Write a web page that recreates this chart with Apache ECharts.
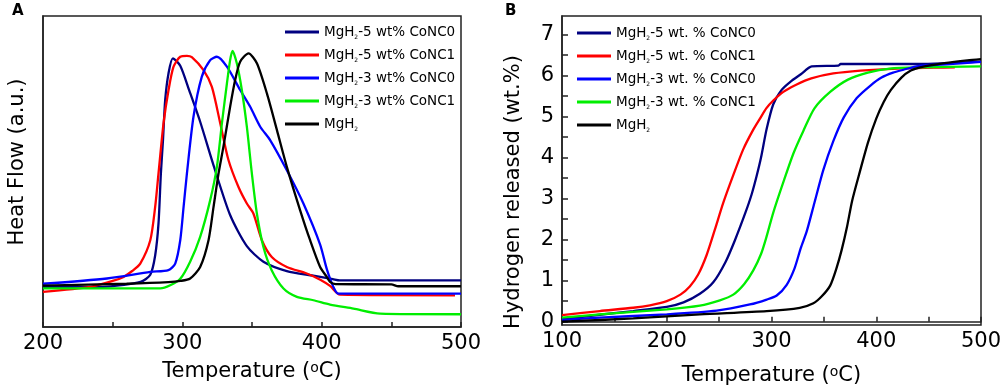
<!DOCTYPE html>
<html>
<head>
<meta charset="utf-8">
<script src="https://cdn.jsdelivr.net/npm/echarts@6/dist/echarts.min.js"></script>
<style>html,body{margin:0;padding:0;background:#fff}#c{width:1007px;height:391px}</style>
</head>
<body>
<div id="c"></div>
<script>
// ---------- Panel A: DSC heat flow (a.u.) ----------
const namesA = ['MgH2-5 wt% CoNC0', 'MgH2-5 wt% CoNC1', 'MgH2-3 wt% CoNC0', 'MgH2-3 wt% CoNC1', 'MgH2'];
const xTicksA = [200, 300, 400, 500];
const heatNavy = [[200,12.8],[246,13.0],[270,14.5],[277,16.8],[280.5,23],[282.9,33.3],[284.6,49.4],[286.1,60],[287.7,73],[290.1,81.6],[293.2,86.4],[298.5,84],[305,76],[312.8,66],[322.4,52],[334.3,36],[346.3,26],[358.2,21],[375,18],[394,16.5],[408,15.4],[413,15.0],[500,15.0]];
const heatRed = [[200,11.3],[234,12.9],[250,14.8],[257.8,16.1],[264,18],[269.8,20.4],[277,27.9],[280.5,38.6],[282.9,49.4],[286.5,65.5],[290.1,76.2],[293.7,83.7],[298.5,86.9],[303.3,87.2],[306.8,86.8],[315.2,82.6],[321.2,77.2],[327.2,65.5],[333.1,53.7],[340.3,45],[346.3,39.7],[351,36.5],[357.1,27.9],[364.2,22.5],[375,19.3],[389.3,17.2],[399,15.2],[406,13.2],[413.2,10.4],[495.7,10.2]];
const heatBlue = [[200,13.9],[245.9,15.6],[277,17.7],[290,18.3],[294.9,20.4],[298.5,27.9],[300.9,38.6],[303.3,49.4],[308,67.6],[314,80.5],[320,85.8],[324.8,86.9],[332,83.7],[341.5,76.2],[348.7,70.8],[355.9,64.4],[363,60.1],[375,50.4],[386.9,39.7],[398.9,26.5],[403.7,18.6],[408.4,12.9],[412,10.7],[500,10.7]];
const heatGreen = [[200,12.4],[284.1,12.4],[291.3,13.4],[298.5,15.5],[305.6,21],[312.8,29],[320,40.8],[324.8,51.5],[328.4,65.5],[332,78.3],[334.3,85.8],[336,88.8],[339.1,84.8],[342.7,76.2],[346.3,64.4],[349.9,49.4],[353.5,36.5],[358.2,25.7],[364.2,18.2],[372.6,12.4],[382.2,9.7],[394.1,8.6],[406,7.2],[422.8,5.9],[441.9,4.3],[500,4.1]];
const heatBlack = [[200,13.3],[260,13.9],[290,14.4],[298.5,14.8],[305.6,15.6],[312.8,19.3],[318.8,27.9],[322.4,38.6],[326,49.4],[329.5,58],[334.3,70.8],[337.9,79.4],[341.5,85.3],[347.5,88],[353.5,84.8],[360.7,75.1],[367.9,63.3],[375,51.5],[384.5,37.6],[391.7,27.9],[398.9,19.3],[403.7,16.1],[406,14.5],[410,13.8],[450,13.7],[455,13.1],[500,13.1]];

// ---------- Panel B: hydrogen released (wt.%) ----------
const namesB = ['MgH2-5 wt. % CoNC0', 'MgH2-5 wt. % CoNC1', 'MgH2-3 wt. % CoNC0', 'MgH2-3 wt. % CoNC1', 'MgH2'];
const xTicksB = [100, 200, 300, 400, 500];
const yTicksB = [0, 1, 2, 3, 4, 5, 6, 7];
const yMinorB = [0, 0.5, 1, 1.5, 2, 2.5, 3, 3.5, 4, 4.5, 5, 5.5, 6, 6.5, 7];
const h2Navy = [[100,0.06],[136,0.17],[168,0.26],[200,0.36],[216,0.47],[231.6,0.68],[244.4,0.96],[256,1.45],[265,1.98],[275,2.65],[281,3.1],[285.8,3.55],[290,4.0],[295.4,4.7],[301.7,5.3],[309.7,5.65],[317.7,5.84],[328,6.03],[338.4,6.22],[364,6.24],[366,6.28],[440,6.28],[500,6.34]];
const h2Red = [[100,0.16],[136,0.26],[168,0.34],[184,0.40],[200,0.50],[213,0.66],[222,0.86],[230,1.15],[238,1.62],[246,2.25],[254,2.9],[263.5,3.57],[273,4.2],[282.6,4.68],[289,4.95],[295,5.2],[301.7,5.39],[311.3,5.6],[324,5.78],[338,5.93],[359,6.05],[385,6.12],[420,6.17],[455,6.19],[475,6.2]];
const h2Blue = [[100,0.04],[136,0.1],[200,0.18],[247.6,0.27],[279.4,0.42],[295.4,0.54],[305,0.64],[314.5,0.9],[322,1.3],[328,1.8],[333.6,2.2],[341,2.9],[349.5,3.7],[359,4.4],[369,4.98],[381.4,5.45],[394.2,5.75],[405,5.95],[416,6.07],[426,6.14],[440,6.23],[470,6.28],[500,6.33]];
const h2Green = [[100,0.1],[136,0.18],[200,0.3],[231.6,0.39],[250.7,0.52],[263.5,0.66],[274,0.92],[282.6,1.25],[290,1.65],[295,2.05],[301.7,2.66],[311.3,3.4],[320.9,4.1],[330.4,4.65],[341,5.2],[356,5.6],[373,5.9],[392,6.07],[413,6.17],[440,6.2],[500,6.22]];
const h2Black = [[100,0.0],[168,0.08],[231.6,0.18],[295.4,0.26],[327,0.34],[340,0.45],[348,0.62],[356,0.88],[362,1.3],[367,1.75],[372,2.3],[377,2.95],[384.5,3.67],[392,4.36],[400,4.95],[407,5.35],[414,5.65],[424,5.95],[433,6.12],[442,6.2],[465,6.3],[487,6.37],[500,6.4]];

const colors = ['#000080', '#ff0000', '#0000ff', '#00ee00', '#000000'];
const FONT = '"DejaVu Sans", "Liberation Sans", Arial, sans-serif';

const chart = echarts.init(document.getElementById('c'), null, {renderer: 'canvas'});

function legendFmt(name) {
  return name.replace('MgH2', 'MgH{s|2}');
}
const legendText = {
  fontSize: 13.5, lineHeight: 16, color: '#000', fontFamily: FONT,
  rich: { s: { fontSize: 6, verticalAlign: 'bottom', lineHeight: 16, color: '#000', fontFamily: FONT } }
};
const axisName = {
  fontSize: 21, color: '#000', fontFamily: FONT,
  rich: { o: { fontSize: 14, verticalAlign: 'top', color: '#000', fontFamily: FONT } }
};
const lineCol = { color: '#222', width: 1.5 };

function mkSeries(name, data, color, xi, yi) {
  return {
    type: 'line', name, data, xAxisIndex: xi, yAxisIndex: yi,
    showSymbol: false, symbol: 'none', smooth: 0.25,
    color, itemStyle: {color}, lineStyle: {color, width: 2.3},
    emphasis: {disabled: true}, animation: false
  };
}

const option = {
  animation: false,
  grid: [
    {left: 43, top: 16, width: 418, height: 311, show: true, borderColor: '#222', borderWidth: 1.5, backgroundColor: 'transparent'},
    {left: 562, top: 16, width: 419, height: 310, show: true, borderColor: '#222', borderWidth: 1.5, backgroundColor: 'transparent'}
  ],
  xAxis: [
    {
      type: 'value', gridIndex: 0, min: 200, max: 500, interval: 50,
      axisLine: {show: true, lineStyle: lineCol},
      axisTick: {show: true, inside: true, length: 5, lineStyle: lineCol},
      axisLabel: {fontSize: 21, color: '#000', fontFamily: FONT, margin: 6,
        formatter: v => xTicksA.indexOf(v) >= 0 ? String(v) : ''},
      splitLine: {show: false},
      name: 'Temperature ({o|o}C)', nameLocation: 'middle', nameGap: 34, nameTextStyle: axisName
    },
    {
      type: 'value', gridIndex: 1, min: 100, max: 500, interval: 50,
      axisLine: {show: true, lineStyle: lineCol},
      axisTick: {show: true, inside: true, length: 5, lineStyle: lineCol},
      axisLabel: {fontSize: 21, color: '#000', fontFamily: FONT, margin: 6,
        formatter: v => xTicksB.indexOf(v) >= 0 ? String(v) : ''},
      splitLine: {show: false},
      name: 'Temperature ({o|o}C)', nameLocation: 'middle', nameGap: 40, nameTextStyle: axisName
    }
  ],
  yAxis: [
    {
      type: 'value', gridIndex: 0, min: 0, max: 100,
      axisLine: {show: true, lineStyle: lineCol},
      axisTick: {show: false}, axisLabel: {show: false}, splitLine: {show: false}
    },
    {
      type: 'value', gridIndex: 1, min: -0.08, max: 7.45,
      axisLine: {show: true, lineStyle: lineCol},
      axisTick: {show: true, inside: true, length: 6, lineStyle: lineCol, customValues: yMinorB},
      axisLabel: {fontSize: 21, color: '#000', fontFamily: FONT, margin: 8, customValues: yTicksB},
      splitLine: {show: false}
    }
  ],
  legend: [
    {
      data: namesA, orient: 'vertical', left: 285, top: 24, padding: 0,
      icon: 'rect', itemWidth: 34, itemHeight: 3, itemGap: 7,
      formatter: legendFmt, textStyle: legendText, selectedMode: false
    },
    {
      data: namesB, orient: 'vertical', left: 577, top: 25, padding: 0,
      icon: 'rect', itemWidth: 34, itemHeight: 3, itemGap: 7,
      formatter: legendFmt, textStyle: legendText, selectedMode: false
    }
  ],
  graphic: [
    {type: 'text', left: 12, top: 4, style: {text: 'A', font: 'bold 15px ' + FONT, fill: '#000'}},
    {type: 'text', left: 505, top: 4, style: {text: 'B', font: 'bold 15px ' + FONT, fill: '#000'}},
    {type: 'text', x: 18, y: 162, rotation: Math.PI / 2,
      style: {text: 'Heat Flow (a.u.)', font: '21px ' + FONT, fill: '#000', align: 'center', verticalAlign: 'middle'}},
    {type: 'text', x: 514, y: 192, rotation: Math.PI / 2,
      style: {text: 'Hydrogen released (wt.%)', font: '21px ' + FONT, fill: '#000', align: 'center', verticalAlign: 'middle'}}
  ],
  series: [
    mkSeries(namesA[0], heatNavy, colors[0], 0, 0),
    mkSeries(namesA[1], heatRed, colors[1], 0, 0),
    mkSeries(namesA[2], heatBlue, colors[2], 0, 0),
    mkSeries(namesA[3], heatGreen, colors[3], 0, 0),
    mkSeries(namesA[4], heatBlack, colors[4], 0, 0),
    mkSeries(namesB[0], h2Navy, colors[0], 1, 1),
    mkSeries(namesB[1], h2Red, colors[1], 1, 1),
    mkSeries(namesB[3], h2Green, colors[3], 1, 1),
    mkSeries(namesB[2], h2Blue, colors[2], 1, 1),
    mkSeries(namesB[4], h2Black, colors[4], 1, 1)
  ]
};
chart.setOption(option);
</script>
</body>
</html>
